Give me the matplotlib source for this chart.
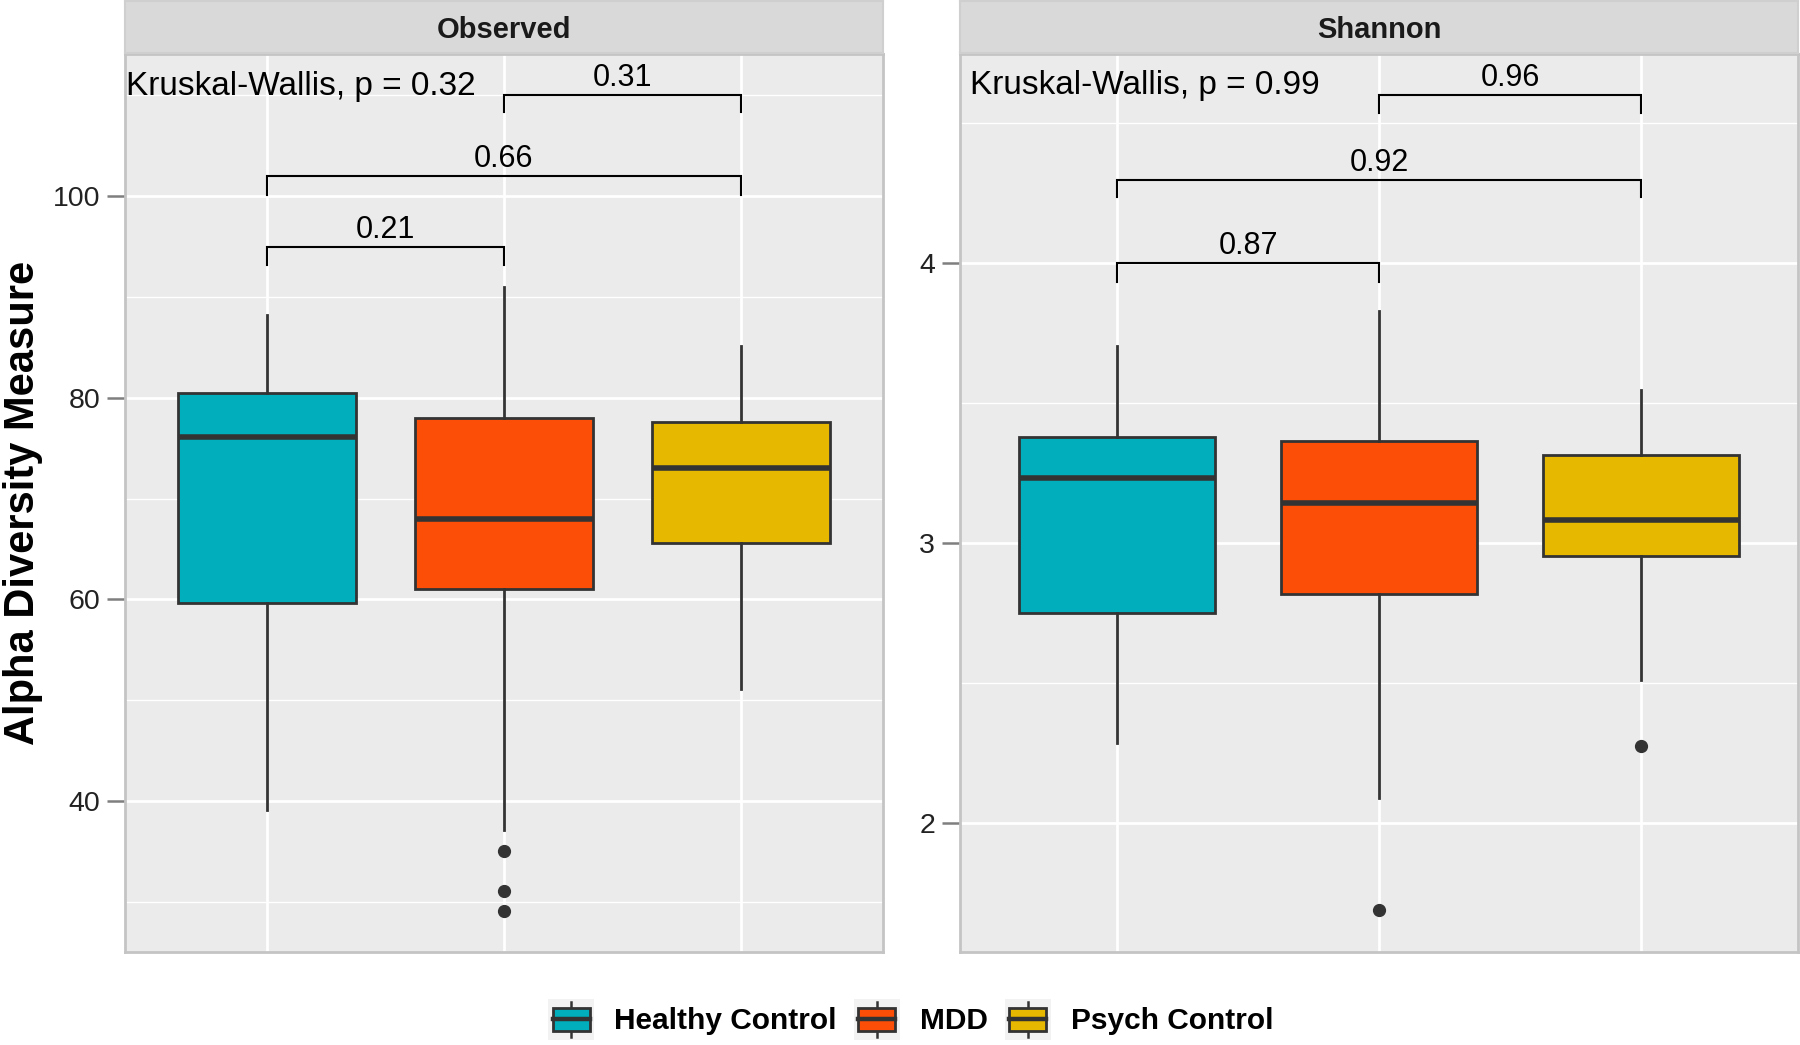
import matplotlib
matplotlib.use("Agg")
import matplotlib.pyplot as plt
from matplotlib.legend_handler import HandlerBase
from matplotlib.patches import Rectangle, Patch
from matplotlib.lines import Line2D

plt.rcParams['font.family'] = ['Liberation Sans', 'DejaVu Sans']

groups = ["Healthy Control", "MDD", "Psych Control"]
colors = ["#00AFBB", "#FC4E07", "#E7B800"]

# box summaries: (whislo, q1, med, q3, whishi)
observed_stats = [
    (39.1, 59.6, 76.1, 80.5, 88.2),
    (37.1, 61.0, 68.0, 78.0, 91.0),
    (51.1, 65.6, 73.0, 77.6, 85.1),
]
observed_fliers = [[], [35.05, 31.1, 29.1], []]

shannon_stats = [
    (2.287, 2.75, 3.234, 3.381, 3.705),
    (2.09, 2.82, 3.143, 3.365, 3.828),
    (2.512, 2.955, 3.082, 3.316, 3.549),
]
shannon_fliers = [[], [1.689], [2.275]]

# pairwise comparisons
pairs = [(1, 2), (1, 3), (2, 3)]
observed_p = ["0.21", "0.66", "0.31"]
observed_bracket_y = [95.0, 102.0, 110.0]
observed_tip_y = [93.2, 100.1, 108.3]
shannon_p = ["0.87", "0.92", "0.96"]
shannon_bracket_y = [4.0, 4.297, 4.601]
shannon_tip_y = [3.934, 4.238, 4.536]

observed_kw = "Kruskal-Wallis, p = 0.32"
shannon_kw = "Kruskal-Wallis, p = 0.99"

EDGE = "#333333"


class BoxHandler(HandlerBase):
    def create_artists(self, legend, orig_handle, xdescent, ydescent,
                       width, height, fontsize, trans):
        x0, y0 = -xdescent, -ydescent
        fc = orig_handle.get_facecolor()
        bg = Rectangle((x0, y0), width, height, fc="#F2F2F2", ec="none",
                       transform=trans)
        bw, bh = width * 0.8, height * 0.56
        bx, by = x0 + (width - bw) / 2, y0 + (height - bh) / 2
        cx = x0 + width / 2
        wt = Line2D([cx, cx], [by + bh, y0 + height * 0.93], color=EDGE,
                    lw=1.8, transform=trans)
        wb = Line2D([cx, cx], [by, y0 + height * 0.07], color=EDGE,
                    lw=1.8, transform=trans)
        box = Rectangle((bx, by), bw, bh, fc=fc, ec=EDGE, lw=2,
                        transform=trans)
        med = Line2D([bx, bx + bw], [by + bh / 2] * 2, color=EDGE, lw=3.2,
                     transform=trans)
        return [bg, wt, wb, box, med]


def draw_panel(ax, strip_ax, title, stats, fliers, ylim, majors, minors,
               p_labels, bracket_y, tip_y, kw_text, kw_x, kw_y):
    ax.set_facecolor("#EBEBEB")
    ax.set_axisbelow(True)
    data = []
    for (lo, q1, med, q3, hi), fl in zip(stats, fliers):
        data.append(dict(whislo=lo, q1=q1, med=med, q3=q3, whishi=hi,
                         fliers=fl))
    bp = ax.bxp(data, positions=[1, 2, 3], widths=0.75, patch_artist=True,
                showcaps=False,
                boxprops=dict(edgecolor=EDGE, linewidth=2),
                medianprops=dict(color=EDGE, linewidth=4),
                whiskerprops=dict(color=EDGE, linewidth=2),
                flierprops=dict(marker="o", markerfacecolor=EDGE,
                                markeredgecolor=EDGE, markersize=8.5,
                                linestyle="none"))
    for patch, c in zip(bp["boxes"], colors):
        patch.set_facecolor(c)

    for (a, b), lab, y, t in zip(pairs, p_labels, bracket_y, tip_y):
        ax.plot([a, a, b, b], [t, y, y, t], color="black", lw=1.5,
                solid_joinstyle="miter")
        ax.annotate(lab, xy=((a + b) / 2, y), xytext=(0, 6.5),
                    textcoords="offset points", ha="center", va="baseline",
                    fontsize=22, color="black")
    ax.text(kw_x, kw_y, kw_text, ha="left", va="baseline", fontsize=24,
            color="black")

    ax.set_xlim(0.4, 3.6)
    ax.set_ylim(*ylim)
    ax.set_xticks([1, 2, 3])
    ax.set_xticklabels([])
    ax.set_yticks(majors)
    ax.set_yticks(minors, minor=True)
    ax.tick_params(axis="x", length=0)
    ax.tick_params(axis="y", which="major", length=13, width=1.8,
                   color="#7F7F7F", pad=5, labelsize=20.5,
                   labelcolor="#222222")
    ax.tick_params(axis="y", which="minor", length=0)
    ax.grid(True, which="major", color="white", lw=2)
    ax.grid(True, which="minor", axis="y", color="white", lw=1)
    for s in ax.spines.values():
        s.set_color("#C4C4C4")
        s.set_linewidth(2)

    strip_ax.set_facecolor("#D9D9D9")
    strip_ax.set_xticks([])
    strip_ax.set_yticks([])
    for s in strip_ax.spines.values():
        s.set_color("#CFCFCF")
        s.set_linewidth(1.5)
    strip_ax.text(0.5, 0.44, title, ha="center", va="center",
                  fontsize=21, fontweight="bold", color="#1A1A1A",
                  transform=strip_ax.transAxes)


W, H = 1800, 1045
fig = plt.figure(figsize=(18, 10.45), dpi=100)
bottom = 1 - 952 / H
height = (952 - 54) / H
ax1 = fig.add_axes([125 / W, bottom, 758 / W, height])
ax2 = fig.add_axes([960 / W, bottom, 838 / W, height])
s1 = fig.add_axes([125 / W, 1 - 53 / H, 758 / W, 52 / H])
s2 = fig.add_axes([960 / W, 1 - 53 / H, 838 / W, 52 / H])

draw_panel(ax1, s1, "Observed", observed_stats, observed_fliers,
           (25.03, 114.1), [40, 60, 80, 100], [30, 50, 70, 90, 110],
           observed_p, observed_bracket_y, observed_tip_y,
           observed_kw, 0.405, 110.0)
draw_panel(ax2, s2, "Shannon", shannon_stats, shannon_fliers,
           (1.540, 4.7475), [2, 3, 4], [2.5, 3.5, 4.5],
           shannon_p, shannon_bracket_y, shannon_tip_y,
           shannon_kw, 0.44, 4.603)

fig.text(23 / W, 1 - 503 / H, "Alpha Diversity Measure", rotation=90,
         ha="center", va="center", fontsize=30, fontweight="bold",
         color="black")

handles = [Patch(facecolor=c) for c in colors]
fig.legend(handles, groups, loc="center", bbox_to_anchor=(0.506, 0.0245),
           ncol=3, frameon=False, handler_map={Patch: BoxHandler()},
           prop=dict(size=21.5, weight="bold"), handlelength=1.54,
           handleheight=1.7, handletextpad=0.67, columnspacing=0.57,
           borderaxespad=0, borderpad=0)

fig.savefig("out.png", dpi=100)
